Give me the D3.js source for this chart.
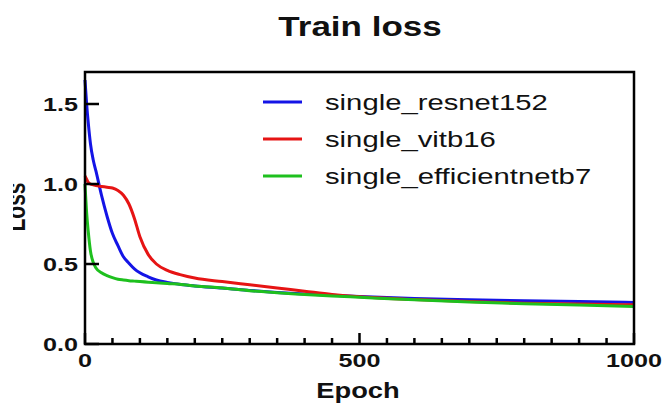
<!DOCTYPE html>
<html>
<head>
<meta charset="utf-8">
<script src="https://cdn.jsdelivr.net/npm/d3@7"></script>
<style>
  html, body { margin: 0; padding: 0; background: #fff; }
  svg { display: block; }
  text { font-family: "Liberation Sans", Arial, sans-serif; fill: #111; }
</style>
</head>
<body>
<svg id="chart" width="665" height="403"></svg>
<script>
// Training loss per epoch for three single-model runs
const epochs = [0, 3, 6, 10, 15, 20, 30, 40, 50, 60, 70, 80, 90, 100, 115, 130, 150, 175, 200, 250, 300, 350, 400, 450, 500, 600, 700, 800, 900, 1000];
const resnet152 = [1.65, 1.50, 1.38, 1.25, 1.15, 1.08, 0.93, 0.80, 0.69, 0.615, 0.545, 0.505, 0.47, 0.445, 0.42, 0.40, 0.385, 0.372, 0.363, 0.35, 0.335, 0.322, 0.312, 0.304, 0.297, 0.285, 0.277, 0.27, 0.265, 0.26];
const vitb16 = [1.05, 1.03, 1.01, 1.0, 0.995, 0.99, 0.985, 0.98, 0.975, 0.96, 0.93, 0.875, 0.785, 0.67, 0.56, 0.50, 0.46, 0.432, 0.412, 0.39, 0.37, 0.35, 0.33, 0.31, 0.295, 0.278, 0.265, 0.255, 0.25, 0.245];
const efficientnetb7 = [1.0, 0.82, 0.70, 0.58, 0.51, 0.475, 0.445, 0.428, 0.415, 0.405, 0.40, 0.396, 0.393, 0.39, 0.386, 0.383, 0.378, 0.372, 0.363, 0.35, 0.333, 0.32, 0.31, 0.30, 0.292, 0.276, 0.263, 0.252, 0.243, 0.235];
const seriesNames = ["single_resnet152", "single_vitb16", "single_efficientnetb7"];
const seriesColors = ["#1414e6", "#e61414", "#1ec01e"];
const xTicks = [0, 500, 1000];
const yTicks = [0.0, 0.5, 1.0, 1.5];

const series = [resnet152, vitb16, efficientnetb7].map((vals, i) => ({
  name: seriesNames[i],
  color: seriesColors[i],
  points: epochs.map((e, j) => [e, vals[j]])
}));

const svg = d3.select("#chart");
const plotLeft = 85, plotRight = 634, plotTop = 72, plotBottom = 344;

const x = d3.scaleLinear().domain([0, 1000]).range([plotLeft, plotRight]);
const y = d3.scaleLinear().domain([0, 1.7]).range([plotBottom, plotTop]);

// text widened horizontally around its anchor point
function label(g, txt, tx, ty, opts) {
  return g.append("text")
    .attr("transform", `translate(${tx},${ty}) scale(${opts.sx || 1},1)${opts.rot ? " rotate(" + opts.rot + ")" : ""}`)
    .attr("text-anchor", opts.anchor || "middle")
    .attr("font-size", opts.size)
    .attr("font-weight", opts.weight || "bold")
    .text(txt);
}

// curves
const line = d3.line().x(d => x(d[0])).y(d => y(d[1])).curve(d3.curveMonotoneX);
svg.append("g").selectAll("path").data(series).join("path")
  .attr("d", d => line(d.points))
  .attr("fill", "none")
  .attr("stroke", d => d.color)
  .attr("stroke-width", 3)
  .attr("stroke-linejoin", "round");

// frame
svg.append("rect")
  .attr("x", plotLeft).attr("y", plotTop)
  .attr("width", plotRight - plotLeft).attr("height", plotBottom - plotTop)
  .attr("fill", "none").attr("stroke", "#000").attr("stroke-width", 2.5);

// x axis ticks (inward), minor every 50
const xMinor = d3.range(0, 1001, 50);
svg.append("g").selectAll("line").data(xMinor).join("line")
  .attr("x1", d => x(d)).attr("x2", d => x(d))
  .attr("y1", plotBottom).attr("y2", d => plotBottom - (d % 500 === 0 ? 11 : 6))
  .attr("stroke", "#000").attr("stroke-width", 2.5);

const xl = svg.append("g");
xTicks.forEach(v => label(xl, String(v), x(v), 367, { size: 18, sx: 1.4 }));

// y axis ticks (inward)
svg.append("g").selectAll("line").data(yTicks).join("line")
  .attr("x1", plotLeft).attr("x2", plotLeft + 14)
  .attr("y1", d => y(d)).attr("y2", d => y(d))
  .attr("stroke", "#000").attr("stroke-width", 2.5);

const yl = svg.append("g");
yTicks.forEach(v => label(yl, v.toFixed(1), 78, y(v) + 6.5, { size: 18, sx: 1.4, anchor: "end" }));

// titles
label(svg, "Train loss", 360, 36, { size: 28, sx: 1.25 });
label(svg, "Epoch", 358, 398, { size: 21.5, sx: 1.27 });

svg.append("clipPath").attr("id", "ylabClip")
  .append("rect").attr("x", 13).attr("y", 150).attr("width", 40).attr("height", 120);
const yTitle = svg.append("g").attr("clip-path", "url(#ylabClip)");
label(yTitle, "Loss", 25, 207, { size: 21, sx: 1.3, rot: -90 });

// legend
const legend = svg.append("g");
const legendY = [102, 139, 176];
series.forEach((s, i) => {
  legend.append("line")
    .attr("x1", 263).attr("x2", 302)
    .attr("y1", legendY[i]).attr("y2", legendY[i])
    .attr("stroke", s.color).attr("stroke-width", 3);
  label(legend, s.name, 325, legendY[i] + 8, { size: 22, sx: 1.33, anchor: "start", weight: "normal" });
});
</script>
</body>
</html>
